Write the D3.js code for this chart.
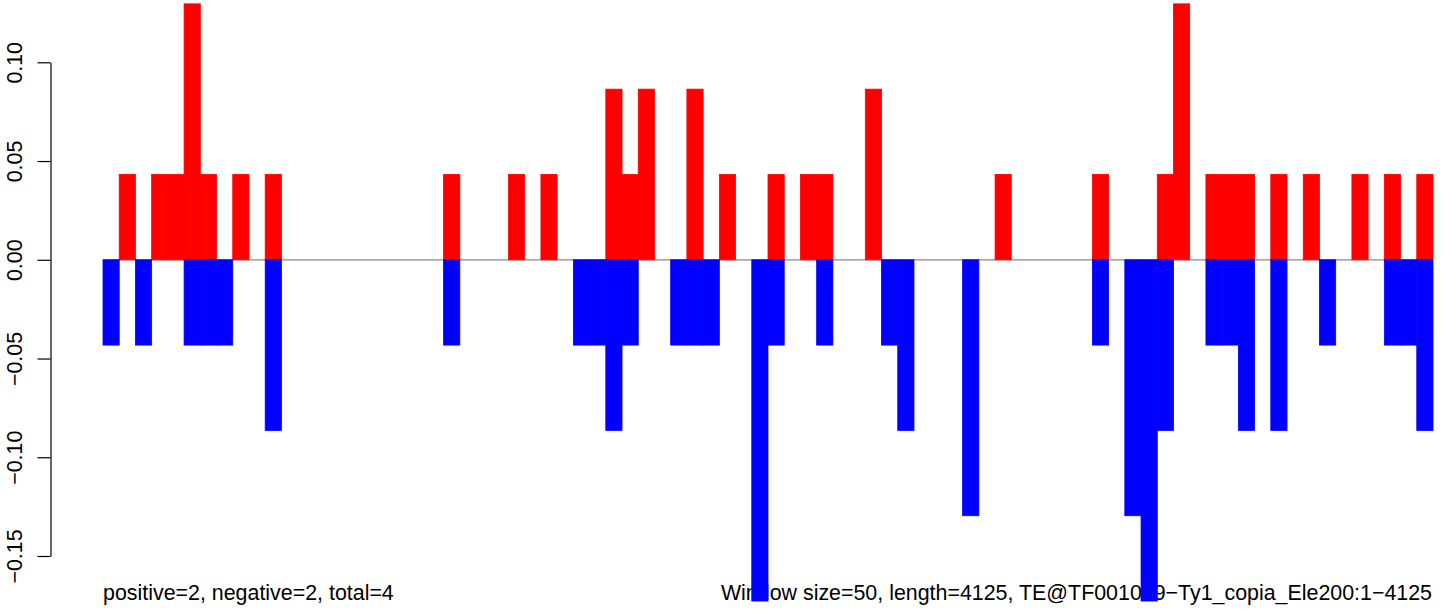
<!DOCTYPE html>
<html>
<head>
<meta charset="utf-8">
<script src="https://cdn.jsdelivr.net/npm/d3@7"></script>
<style>
  html, body { margin: 0; padding: 0; background: #fff; }
  svg { display: block; }
  text { font-family: "Liberation Sans", Arial, Helvetica, sans-serif; }
</style>
</head>
<body>
<svg id="chart" width="1444" height="613"></svg>
<script>
// ---- data ----
const windowSize = 50;
const seqLength = 4125;
const windowCount = 82;

// positive-strand values per 50bp window (red)
const positiveValues = [
  0, 0.0432, 0, 0.0432, 0.0432, 0.1296, 0.0432, 0, 0.0432, 0,
  0.0432, 0, 0, 0, 0, 0, 0, 0, 0, 0,
  0, 0.0432, 0, 0, 0, 0.0432, 0, 0.0432, 0, 0,
  0, 0.0864, 0.0432, 0.0864, 0, 0, 0.0864, 0, 0.0432, 0,
  0, 0.0432, 0, 0.0432, 0.0432, 0, 0, 0.0864, 0, 0,
  0, 0, 0, 0, 0, 0.0432, 0, 0, 0, 0,
  0, 0.0432, 0, 0, 0, 0.0432, 0.1296, 0, 0.0432, 0.0432,
  0.0432, 0, 0.0432, 0, 0.0432, 0, 0, 0.0432, 0, 0.0432,
  0, 0.0432
];

// negative-strand values per 50bp window (blue)
const negativeValues = [
  -0.0432, 0, -0.0432, 0, 0, -0.0432, -0.0432, -0.0432, 0, 0,
  -0.0864, 0, 0, 0, 0, 0, 0, 0, 0, 0,
  0, -0.0432, 0, 0, 0, 0, 0, 0, 0, -0.0432,
  -0.0432, -0.0864, -0.0432, 0, 0, -0.0432, -0.0432, -0.0432, 0, 0,
  -0.1728, -0.0432, 0, 0, -0.0432, 0, 0, 0, -0.0432, -0.0864,
  0, 0, 0, -0.1296, 0, 0, 0, 0, 0, 0,
  0, -0.0432, 0, -0.1296, -0.1728, -0.0864, 0, 0, -0.0432, -0.0432,
  -0.0864, 0, -0.0864, 0, 0, -0.0432, 0, 0, 0, -0.0432,
  -0.0432, -0.0864
];

const yTicks = [-0.15, -0.10, -0.05, 0.00, 0.05, 0.10];
const yTickLabels = ["\u22120.15", "\u22120.10", "\u22120.05", "0.00", "0.05", "0.10"];

const leftNote = "positive=2, negative=2, total=4";
const rightNote = "Window size=50, length=4125, TE@TF001039\u2212Ty1_copia_Ele200:1\u22124125";

// ---- scales ----
const svg = d3.select("#chart");
const windowStarts = d3.range(windowCount).map(i => i * windowSize);

const x = d3.scaleLinear()
  .domain([0, windowCount * windowSize])
  .range([103, 1433]);

const y = d3.scaleLinear()
  .domain([-0.15, 0.10])
  .range([556, 62.3]);

const fontSize = 21.4;

// ---- notes (drawn first, bars overlap them) ----
svg.append("text")
  .attr("x", x(0))
  .attr("y", 600)
  .attr("font-size", fontSize)
  .attr("fill", "#000")
  .text(leftNote);

svg.append("text")
  .attr("x", x(windowCount * windowSize) - 1)
  .attr("y", 600)
  .attr("font-size", fontSize)
  .attr("text-anchor", "end")
  .attr("fill", "#000")
  .text(rightNote);

// ---- y axis ----
const yAxis = d3.axisLeft(y)
  .tickValues(yTicks)
  .tickFormat((d, i) => yTickLabels[i])
  .tickSize(13)
  .tickSizeOuter(0);

const gAxis = svg.append("g")
  .attr("transform", "translate(50.5,0)")
  .call(yAxis);

gAxis.select(".domain").attr("stroke", "#000").attr("stroke-width", 1.2);
gAxis.selectAll(".tick line").attr("stroke", "#000").attr("stroke-width", 1.2);
gAxis.selectAll(".tick text")
  .attr("transform", "rotate(-90)")
  .attr("x", 0)
  .attr("y", -28.8)
  .attr("dy", null)
  .attr("text-anchor", "middle")
  .attr("font-size", fontSize)
  .attr("font-family", "'Liberation Sans', Arial, Helvetica, sans-serif")
  .attr("fill", "#000");

// ---- zero line ----
svg.append("line")
  .attr("x1", x(0))
  .attr("x2", x(windowCount * windowSize))
  .attr("y1", y(0))
  .attr("y2", y(0))
  .attr("stroke", "#8a8a8a")
  .attr("stroke-width", 1.2);

// ---- bars ----
const posData = windowStarts.map((s, i) => ({ s, v: positiveValues[i] })).filter(d => d.v !== 0);
const negData = windowStarts.map((s, i) => ({ s, v: negativeValues[i] })).filter(d => d.v !== 0);

svg.append("g").selectAll("rect")
  .data(posData)
  .join("rect")
  .attr("x", d => x(d.s))
  .attr("width", d => x(d.s + windowSize) - x(d.s))
  .attr("y", d => y(d.v))
  .attr("height", d => y(0) - y(d.v))
  .attr("fill", "#ff0000")
  .attr("stroke", "#ff0000")
  .attr("stroke-width", 0.8);

svg.append("g").selectAll("rect")
  .data(negData)
  .join("rect")
  .attr("x", d => x(d.s))
  .attr("width", d => x(d.s + windowSize) - x(d.s))
  .attr("y", y(0))
  .attr("height", d => y(d.v) - y(0))
  .attr("fill", "#0000ff")
  .attr("stroke", "#0000ff")
  .attr("stroke-width", 0.8);
</script>
</body>
</html>
